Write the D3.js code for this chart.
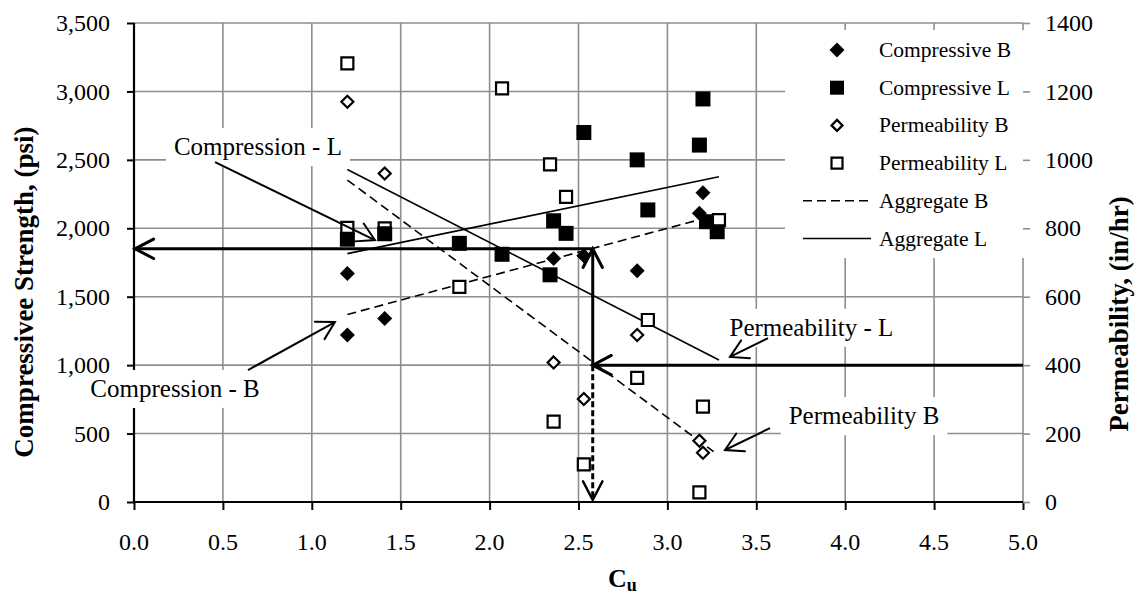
<!DOCTYPE html>
<html>
<head>
<meta charset="utf-8">
<script src="https://cdn.jsdelivr.net/npm/d3@7/dist/d3.min.js"></script>
<style>
  html, body { margin: 0; padding: 0; background: #fff; }
  svg { display: block; font-family: "Liberation Serif", "Times New Roman", serif; }
</style>
</head>
<body>
<svg id="chart" width="1141" height="598"></svg>
<script>
// ---- data ----------------------------------------------------------------
// Uniformity coefficient (Cu) vs compressive strength (psi) and permeability (in/hr)
const compBCu  = [1.2, 1.2, 1.41, 2.36, 2.53, 2.83, 3.18, 3.2];
const compBPsi = [1670, 1220, 1340, 1780, 1800, 1690, 2110, 2260];

const compLCu  = [1.2, 1.41, 1.83, 2.07, 2.34, 2.36, 2.43, 2.53, 2.83, 2.89, 3.18, 3.2, 3.22, 3.28];
const compLPsi = [1920, 1960, 1890, 1810, 1660, 2055, 1963, 2700, 2500, 2134, 2608, 2945, 2048, 1975];

const permBCu  = [1.2, 1.41, 2.36, 2.53, 2.83, 3.18, 3.2];
const permBVal = [1170, 960, 408, 301, 488, 179, 144];

const permLCu  = [1.2, 1.2, 1.41, 1.83, 2.07, 2.34, 2.43, 2.36, 2.53, 2.83, 2.89, 3.18, 3.2, 3.29];
const permLVal = [1282, 801, 800, 629, 1209, 987, 892, 235, 110, 363, 532, 28, 279, 824];

// Linear trends for each aggregate (end points)
const trendCompBCu = [1.2, 3.2],  trendCompBPsi = [1370, 2070];
const trendCompLCu = [1.2, 3.29], trendCompLPsi = [1815, 2377];
const trendPermBCu = [1.2, 3.26], trendPermBVal = [941, 147];
const trendPermLCu = [1.2, 3.29], trendPermLVal = [972, 415];

// Design read-off: target permeability -> Cu -> compressive strength
const targetCu = 2.58, targetPsi = 1850, targetPerm = 400;

// Axis ticks
const cuTicks   = [0, 0.5, 1, 1.5, 2, 2.5, 3, 3.5, 4, 4.5, 5];
const psiTicks  = [0, 500, 1000, 1500, 2000, 2500, 3000, 3500];
const permTicks = [0, 200, 400, 600, 800, 1000, 1200, 1400];

const legendNames = ["Compressive B", "Compressive L", "Permeability B", "Permeability L", "Aggregate B", "Aggregate L"];

// Callout labels: text, y-axis used, label centre, leader start, leader tip (data units)
const calloutText = ["Compression - L", "Compression - B", "Permeability - L", "Permeability B"];
const calloutAxis = ["psi", "psi", "perm", "perm"];
const calloutAt   = [[0.697, 2594], [0.231, 826], [3.81, 509], [4.106, 251]];
const calloutFrom = [[0.456, 2484], [0.641, 964], [3.566, 479], [3.577, 216]];
const calloutTip  = [[1.355, 1914], [1.13, 1315], [3.352, 424], [3.324, 152]];

// ---- scales --------------------------------------------------------------
const svg = d3.select("#chart");
const x  = d3.scaleLinear().domain([0, 5]).range([134, 1023]);
const yL = d3.scaleLinear().domain([0, 3500]).range([502, 23]);
const yR = d3.scaleLinear().domain([0, 1400]).range([502, 23]);
const yOf = a => a === "psi" ? yL : yR;

const GRID = "#8e8e8e";

// ---- gridlines -----------------------------------------------------------
const grid = svg.append("g");
grid.selectAll("line.v").data(cuTicks.filter(d => d > 0)).join("line")
  .attr("x1", d => x(d)).attr("x2", d => x(d))
  .attr("y1", yL(3500)).attr("y2", yL(0))
  .attr("stroke", GRID).attr("stroke-width", 1.6);
grid.selectAll("line.h").data(psiTicks.filter(d => d > 0)).join("line")
  .attr("x1", x(0)).attr("x2", x(5))
  .attr("y1", d => yL(d)).attr("y2", d => yL(d))
  .attr("stroke", GRID).attr("stroke-width", 1.6);

// ---- legend background (hides grid behind it) ----------------------------
svg.append("rect").attr("x", 785).attr("y", 30).attr("width", 239).attr("height", 228).attr("fill", "#fff");

// ---- axes ----------------------------------------------------------------
const axL = d3.axisLeft(yL).tickValues(psiTicks).tickSize(7).tickFormat("");
const gL = svg.append("g").attr("transform", `translate(${x(0)},0)`).call(axL);
gL.select(".domain").remove();
gL.selectAll(".tick line").attr("stroke", "#000").attr("stroke-width", 2);

const axB = d3.axisBottom(x).tickValues(cuTicks).tickSize(8).tickFormat("");
const gB = svg.append("g").attr("transform", `translate(0,${yL(0)})`).call(axB);
gB.select(".domain").remove();
gB.selectAll(".tick line").attr("stroke", "#000").attr("stroke-width", 2);

const axR = d3.axisRight(yR).tickValues(permTicks).tickSize(7).tickFormat("");
const gR = svg.append("g").attr("transform", `translate(${x(5)},0)`).call(axR);
gR.select(".domain").remove();
gR.selectAll(".tick line").attr("stroke", GRID).attr("stroke-width", 1.6);

svg.append("line").attr("x1", x(0)).attr("x2", x(0)).attr("y1", yL(3500)).attr("y2", yL(0) + 1)
  .attr("stroke", "#000").attr("stroke-width", 2.2);
svg.append("line").attr("x1", x(0) - 1).attr("x2", x(5)).attr("y1", yL(0)).attr("y2", yL(0))
  .attr("stroke", "#000").attr("stroke-width", 2.2);

// ---- trend lines ---------------------------------------------------------
const line2 = (cu, v, ys) => d3.line()(cu.map((c, i) => [x(c), ys(v[i])]));
const trends = svg.append("g").attr("fill", "none").attr("stroke", "#000").attr("stroke-width", 1.6);
trends.append("path").attr("d", line2(trendCompBCu, trendCompBPsi, yL)).attr("stroke-dasharray", "9,5");
trends.append("path").attr("d", line2(trendPermBCu, trendPermBVal, yR)).attr("stroke-dasharray", "9,5");
trends.append("path").attr("d", line2(trendCompLCu, trendCompLPsi, yL));
trends.append("path").attr("d", line2(trendPermLCu, trendPermLVal, yR));

// ---- arrow helper --------------------------------------------------------
function chevron(tip, from, len, ang) {
  const dx = from[0] - tip[0], dy = from[1] - tip[1];
  const d = Math.hypot(dx, dy), ux = dx / d, uy = dy / d;
  const arm = a => [tip[0] + len * (ux * Math.cos(a) - uy * Math.sin(a)),
                    tip[1] + len * (ux * Math.sin(a) + uy * Math.cos(a))];
  const p1 = arm(ang), p2 = arm(-ang);
  return `M${p1[0]},${p1[1]}L${tip[0]},${tip[1]}L${p2[0]},${p2[1]}`;
}
function arrow(g, from, tip, opts) {
  g.append("line").attr("x1", from[0]).attr("y1", from[1]).attr("x2", tip[0]).attr("y2", tip[1])
    .attr("stroke", "#000").attr("stroke-width", opts.w)
    .attr("stroke-dasharray", opts.dash || null);
  g.append("path").attr("d", chevron(tip, from, opts.len, opts.ang))
    .attr("fill", "none").attr("stroke", "#000").attr("stroke-width", opts.hw || opts.w)
    .attr("stroke-linecap", "round").attr("stroke-linejoin", "miter");
}

// ---- read-off arrows -----------------------------------------------------
const arrows = svg.append("g");
const pCross = [x(targetCu), yR(targetPerm)];
const pComp  = [x(targetCu), yL(targetPsi)];
arrow(arrows, [x(5), yR(targetPerm)], pCross, { w: 3, len: 21, ang: 0.48 });
arrow(arrows, pCross, pComp, { w: 3, len: 21, ang: 0.48 });
arrow(arrows, pComp, [x(0) + 1, yL(targetPsi)], { w: 3, len: 21, ang: 0.48 });
arrow(arrows, pCross, [x(targetCu), yR(0) - 2], { w: 3, len: 21, ang: 0.48, dash: "6,3", hw: 2.4 });

// ---- markers -------------------------------------------------------------
const diamond = r => `M0,${-r}L${r},0L0,${r}L${-r},0Z`;
const square  = s => `M${-s / 2},${-s / 2}h${s}v${s}h${-s}Z`;
const marks = svg.append("g");
function plot(cu, vals, ys, shape, filled) {
  marks.append("g").selectAll("path").data(cu).join("path")
    .attr("transform", (c, i) => `translate(${x(c)},${ys(vals[i])})`)
    .attr("d", shape)
    .attr("fill", filled ? "#000" : "#fff")
    .attr("stroke", "#000")
    .attr("stroke-width", filled ? 0 : 2.2);
}
plot(permLCu, permLVal, yR, square(12), false);
plot(permBCu, permBVal, yR, diamond(6), false);
plot(compLCu, compLPsi, yL, square(15), true);
plot(compBCu, compBPsi, yL, diamond(7.5), true);

// ---- legend --------------------------------------------------------------
const leg = svg.append("g");
const legY = i => 50 + i * 37.7;
const legSym = [
  g => g.append("path").attr("d", diamond(7.5)).attr("fill", "#000"),
  g => g.append("path").attr("d", square(14)).attr("fill", "#000"),
  g => g.append("path").attr("d", diamond(5.5)).attr("fill", "#fff").attr("stroke", "#000").attr("stroke-width", 2.2),
  g => g.append("path").attr("d", square(11)).attr("fill", "#fff").attr("stroke", "#000").attr("stroke-width", 2.2),
  g => g.append("line").attr("x1", -34).attr("x2", 36).attr("stroke", "#000").attr("stroke-width", 1.6).attr("stroke-dasharray", "9,5"),
  g => g.append("line").attr("x1", -34).attr("x2", 34).attr("stroke", "#000").attr("stroke-width", 1.6)
];
legendNames.forEach((name, i) => {
  const g = leg.append("g").attr("transform", `translate(837,${legY(i)})`);
  legSym[i](g);
  leg.append("text").attr("x", 879).attr("y", legY(i)).attr("dy", "0.33em")
    .attr("font-size", 21.5).text(name);
});

// ---- callouts ------------------------------------------------------------
const call = svg.append("g");
calloutText.forEach((t, i) => {
  const ys = yOf(calloutAxis[i]);
  const c = [x(calloutAt[i][0]), ys(calloutAt[i][1])];
  const box = call.append("rect").attr("fill", "#fff");
  const txt = call.append("text").attr("x", c[0]).attr("y", c[1]).attr("dy", "0.33em")
    .attr("text-anchor", "middle").attr("font-size", 25).text(t);
  const bb = txt.node().getBBox();
  box.attr("x", bb.x - 8).attr("y", c[1] - 19).attr("width", bb.width + 16).attr("height", 38);
  arrow(call, [x(calloutFrom[i][0]), ys(calloutFrom[i][1])],
              [x(calloutTip[i][0]), ys(calloutTip[i][1])], { w: 2, len: 20, ang: 0.52 });
});

// ---- tick labels ---------------------------------------------------------
const labels = svg.append("g").attr("font-size", 24).attr("fill", "#000");
labels.selectAll("text.l").data(psiTicks).join("text")
  .attr("x", 110).attr("y", d => yL(d)).attr("dy", "0.34em").attr("text-anchor", "end")
  .text(d3.format(","));
labels.selectAll("text.r").data(permTicks).join("text")
  .attr("x", 1045).attr("y", d => yR(d)).attr("dy", "0.34em").attr("text-anchor", "start")
  .text(d => String(d));
labels.selectAll("text.b").data(cuTicks).join("text")
  .attr("x", d => x(d)).attr("y", 550).attr("text-anchor", "middle")
  .text(d3.format(".1f"));

// ---- axis titles ---------------------------------------------------------
svg.append("text").attr("transform", "translate(33,292) rotate(-90)")
  .attr("text-anchor", "middle").attr("font-size", 27).attr("font-weight", "bold")
  .text("Compressivee Strength, (psi)");
svg.append("text").attr("transform", "translate(1128,314) rotate(-90)")
  .attr("text-anchor", "middle").attr("font-size", 27).attr("font-weight", "bold")
  .text("Permeability, (in/hr)");
const xt = svg.append("text").attr("x", 608).attr("y", 587).attr("font-weight", "bold");
xt.append("tspan").attr("font-size", 26).text("C");
xt.append("tspan").attr("font-size", 18).attr("dy", 4).text("u");
</script>
</body>
</html>
